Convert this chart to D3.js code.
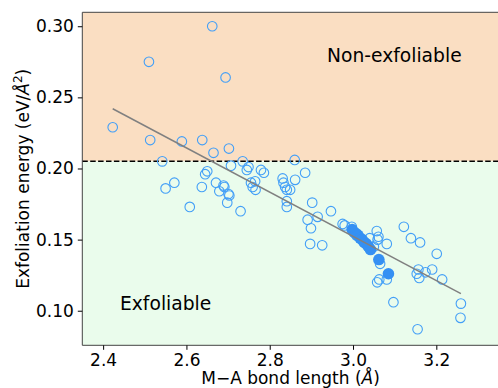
<!DOCTYPE html>
<html>
<head>
<meta charset="utf-8">
<script src="https://cdn.jsdelivr.net/npm/d3@7"></script>
<style>
  html, body { margin: 0; padding: 0; background: #fff; }
  text { font-family: "DejaVu Sans", sans-serif; }
</style>
</head>
<body>
<div id="chart"></div>
<script>
// open markers: bond length (Å) and exfoliation energy (eV/Å^2)
var openX = [2.423, 2.510, 2.513, 2.662, 2.694, 2.589, 2.638, 2.665, 2.702, 2.542,
  2.860, 2.571, 2.550, 2.608, 2.707, 2.735, 2.749, 2.745, 2.645, 2.650,
  2.637, 2.671, 2.689, 2.679, 2.691, 2.701, 2.703, 2.698, 2.730, 2.755,
  2.765, 2.759, 2.766, 2.779, 2.786, 2.831, 2.833, 2.837, 2.841, 2.841,
  2.841, 2.885, 2.861, 2.849, 2.902, 2.947, 2.891, 2.915, 2.899, 2.975,
  2.980, 2.997, 2.897, 2.926, 3.008, 3.057, 3.061, 3.059, 3.081, 3.122,
  3.139, 3.161, 3.201, 3.065, 3.063, 3.058, 3.081, 3.097, 3.157, 3.153,
  3.159, 3.174, 3.190, 3.214, 3.259, 3.258, 3.155, 3.040, 3.050];
var openY = [0.229, 0.275, 0.220, 0.300, 0.264, 0.219, 0.220, 0.211, 0.214, 0.205,
  0.206, 0.190, 0.186, 0.173, 0.202, 0.205, 0.201, 0.199, 0.196, 0.198,
  0.187, 0.190, 0.188, 0.184, 0.187, 0.182, 0.181, 0.176, 0.170, 0.190,
  0.191, 0.187, 0.185, 0.199, 0.197, 0.193, 0.190, 0.187, 0.185, 0.177,
  0.173, 0.197, 0.192, 0.185, 0.176, 0.170, 0.164, 0.166, 0.158, 0.161,
  0.160, 0.159, 0.147, 0.146, 0.153, 0.156, 0.152, 0.150, 0.147, 0.159,
  0.151, 0.148, 0.140, 0.133, 0.122, 0.120, 0.122, 0.106, 0.129, 0.126,
  0.123, 0.127, 0.129, 0.122, 0.105, 0.095, 0.087, 0.151, 0.145];

// filled markers
var filledX = [2.998, 3.003, 3.008, 3.012, 3.017, 3.022, 3.027, 3.032, 3.037, 3.042, 3.062, 3.085];
var filledY = [0.157, 0.155, 0.154, 0.153, 0.151, 0.150, 0.148, 0.147, 0.145, 0.143, 0.136, 0.126];

// linear fit end points
var fitX = [2.423, 3.259];
var fitY = [0.242, 0.112];

var threshold = 0.205;
var xTicks = [2.4, 2.6, 2.8, 3.0, 3.2];
var yTicks = [0.10, 0.15, 0.20, 0.25, 0.30];

var W = 498, H = 388;
var mLeft = 82.3, mTop = 12.3, mRight = 498.8, mBottom = 345.3;

var x = d3.scaleLinear().domain([2.35, 3.35]).range([mLeft, mRight]);
var y = d3.scaleLinear().domain([0.0757, 0.3098]).range([mBottom, mTop]);

var svg = d3.select('#chart').append('svg').attr('width', W).attr('height', H);

svg.append('rect').attr('x', mLeft).attr('y', mTop).attr('width', mRight - mLeft)
  .attr('height', y(threshold) - mTop).attr('fill', '#fadec2');
svg.append('rect').attr('x', mLeft).attr('y', y(threshold)).attr('width', mRight - mLeft)
  .attr('height', mBottom - y(threshold)).attr('fill', '#eafcec');

svg.append('line').attr('x1', mLeft).attr('x2', mRight).attr('y1', y(threshold)).attr('y2', y(threshold))
  .attr('stroke', '#000').attr('stroke-width', 1.5).attr('stroke-dasharray', '5.5,2.4');

svg.append('text').attr('x', 327).attr('y', 62).attr('text-anchor', 'start')
  .attr('font-size', '18.7px').attr('fill', '#000').text('Non-exfoliable');
svg.append('text').attr('x', 120).attr('y', 310).attr('text-anchor', 'start')
  .attr('font-size', '18.7px').attr('fill', '#000').text('Exfoliable');

var openPts = openX.map(function(v, i) { return [v, openY[i]]; });
var filledPts = filledX.map(function(v, i) { return [v, filledY[i]]; });

svg.selectAll('.open').data(openPts).join('circle')
  .attr('cx', function(d) { return x(d[0]); }).attr('cy', function(d) { return y(d[1]); })
  .attr('r', 4.8).attr('fill', 'none').attr('stroke', '#439ff7').attr('stroke-width', 1.1);

svg.selectAll('.filled').data(filledPts).join('circle')
  .attr('cx', function(d) { return x(d[0]); }).attr('cy', function(d) { return y(d[1]); })
  .attr('r', 5.8).attr('fill', '#3590f3');

svg.append('line').attr('x1', x(fitX[0])).attr('y1', y(fitY[0])).attr('x2', x(fitX[1])).attr('y2', y(fitY[1]))
  .attr('stroke', '#808080').attr('stroke-width', 1.5);

// spines
svg.append('path').attr('d', 'M' + mRight + ',' + mTop + 'H' + mLeft + 'V' + mBottom + 'H' + mRight)
  .attr('fill', 'none').attr('stroke', '#444').attr('stroke-width', 1);

var xAxis = svg.append('g').attr('transform', 'translate(0,' + mBottom + ')')
  .call(d3.axisBottom(x).tickValues(xTicks).tickFormat(d3.format('.1f')).tickSize(4.5).tickPadding(4));
var yAxis = svg.append('g').attr('transform', 'translate(' + mLeft + ',0)')
  .call(d3.axisLeft(y).tickValues(yTicks).tickFormat(d3.format('.2f')).tickSize(4.5).tickPadding(4));
[xAxis, yAxis].forEach(function(a) {
  a.select('.domain').remove();
  a.selectAll('line').attr('stroke', '#000');
  a.selectAll('text').attr('font-size', '17px').attr('fill', '#000')
    .attr('font-family', '"DejaVu Sans", sans-serif');
});

var xl = svg.append('text').attr('x', (mLeft + mRight) / 2).attr('y', 384).attr('text-anchor', 'middle')
  .attr('font-size', '17px').attr('fill', '#000');
xl.append('tspan').text('M\u2212A bond length (');
xl.append('tspan').attr('font-style', 'italic').text('\u00c5');
xl.append('tspan').text(')');

var yl = svg.append('text').attr('transform', 'translate(29,' + ((mTop + mBottom) / 2) + ') rotate(-90)')
  .attr('text-anchor', 'middle').attr('font-size', '17px').attr('fill', '#000');
yl.append('tspan').text('Exfoliation energy (eV/');
yl.append('tspan').attr('font-style', 'italic').text('\u00c5');
yl.append('tspan').attr('font-size', '12px').attr('dy', -7).text('2');
yl.append('tspan').attr('dy', 7).text(')');
</script>
</body>
</html>
